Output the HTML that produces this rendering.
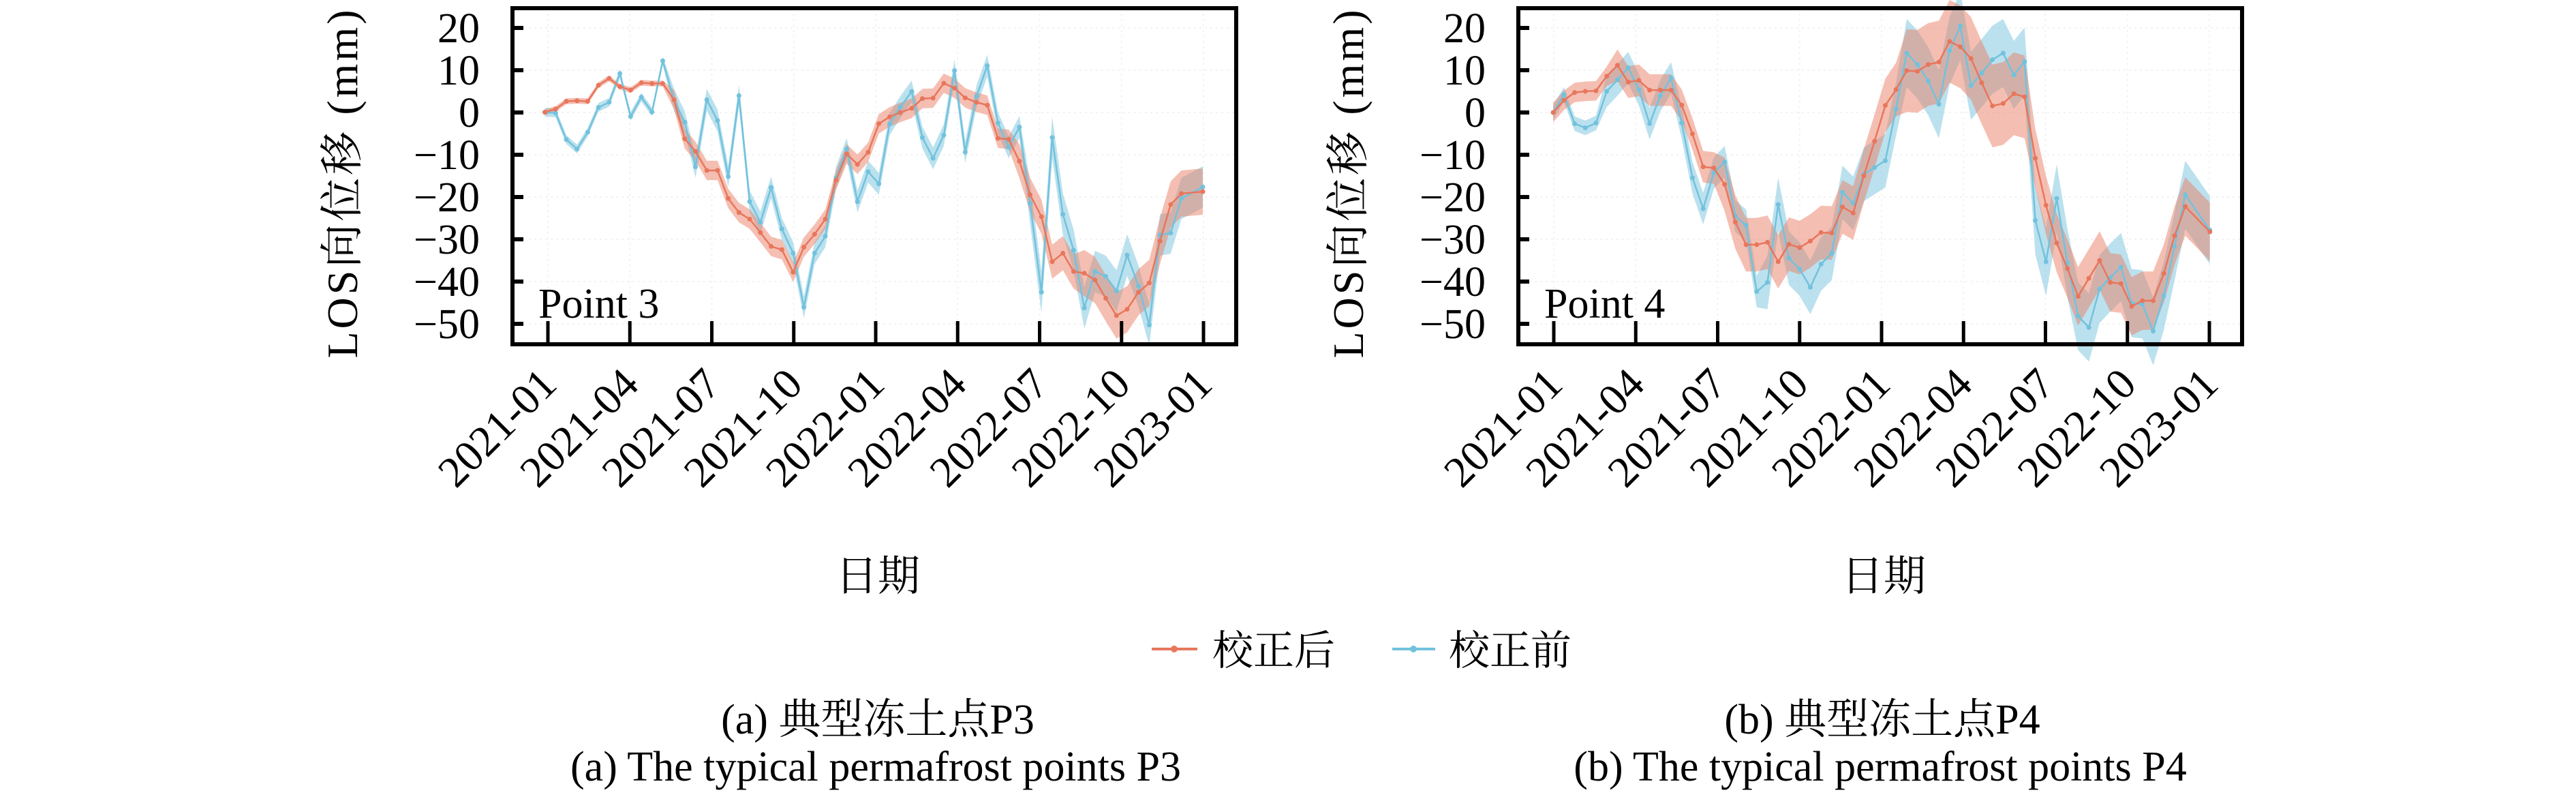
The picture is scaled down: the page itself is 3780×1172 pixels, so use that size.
<!DOCTYPE html>
<html><head><meta charset="utf-8">
<style>
html,body{margin:0;padding:0;background:#fff;}
svg text{font-family:"Liberation Serif","Noto Serif CJK SC",serif;fill:#000;}
</style></head>
<body>
<svg id="s" width="3780" height="1167" viewBox="0 0 3780 1167" xmlns="http://www.w3.org/2000/svg"></svg>
<script>
const S=document.getElementById('s');
const NS='http://www.w3.org/2000/svg';
function el(t,a,txt){const e=document.createElementNS(NS,t);for(const k in a)e.setAttribute(k,a[k]);if(txt!==undefined)e.textContent=txt;S.appendChild(e);return e;}
const OR='#E8765C',BL='#72C2DD';
const ORB='rgba(234,128,102,0.5)',BLB='rgba(120,195,222,0.5)';
function Y(v){return 165-v*6.2;}
const ya=z=>z/2.8;
const pA={
 off:450,frameL:752,frameR:1814,ticks0:804,
 or:[[378,461],[395,448],[412,416],[429,414],[446,416],[463,350],[480,322],[497,356],[514,370],[531,340],[548,343],[565,343],[583,410],[600,570],[617,622],[635,700],[652,700],[669,815],[686,873],[703,900],[720,955],[737,1012],[754,1025],[772,1118],[789,1015],[806,962],[823,900],[840,740],[857,632],[874,675],[891,625],[908,508],[925,480],[942,462],[960,445],[977,405],[994,403],[1011,342],[1028,362],[1045,402],[1063,420],[1080,432],[1097,568],[1114,572],[1131,662],[1148,800],[1166,890],[1183,1075],[1200,1040],[1217,1115],[1234,1122],[1251,1150],[1268,1225],[1285,1296],[1302,1270],[1320,1200],[1337,1162],[1354,990],[1371,840],[1388,795],[1422,787]],
 bl:[[378,461],[395,464],[412,573],[429,612],[446,543],[463,441],[480,420],[497,302],[514,478],[531,399],[548,460],[565,250],[583,410],[600,502],[617,685],[635,410],[652,495],[669,725],[686,393],[703,828],[720,913],[737,770],[754,940],[772,1040],[789,1262],[806,1040],[823,970],[840,730],[857,612],[874,828],[891,705],[908,755],[925,510],[942,440],[960,376],[977,565],[994,650],[1011,555],[1028,290],[1045,625],[1063,395],[1080,270],[1097,505],[1114,605],[1131,522],[1148,835],[1166,1200],[1183,565],[1200,880],[1217,1028],[1234,1265],[1251,1115],[1268,1135],[1285,1195],[1302,1048],[1320,1175],[1337,1335],[1354,965],[1371,957],[1388,815],[1422,768]],
 ow:i=>i<12?12:(i<44?40:(i<50?70:95)),
 bw:i=>i<12?18:(i<45?45:85),
 label:'Point 3'
};
const pB={
 off:1900,frameL:2228,frameR:3290,ticks0:2280,
 or:[[410,462],[427,412],[444,380],[461,375],[478,373],[495,313],[512,268],[529,337],[546,330],[563,370],[580,370],[597,370],[614,432],[631,550],[648,685],[665,690],[682,757],[699,912],[716,1005],[733,1005],[750,995],[767,1075],[784,1003],[801,1017],[818,990],[835,955],[852,957],[869,850],[886,875],[903,722],[920,580],[937,433],[954,368],[971,290],[988,293],[1005,265],[1022,255],[1039,170],[1056,192],[1073,240],[1090,340],[1107,435],[1124,425],[1141,385],[1158,398],[1175,650],[1192,843],[1209,998],[1226,1103],[1243,1217],[1260,1143],[1277,1070],[1294,1160],[1311,1165],[1328,1258],[1345,1235],[1362,1235],[1379,1123],[1396,968],[1413,848],[1452,952]],
 bl:[[410,462],[427,388],[444,508],[461,525],[478,505],[495,375],[512,328],[529,278],[546,368],[563,508],[580,393],[597,320],[614,505],[631,730],[648,857],[665,710],[682,665],[699,888],[716,925],[733,1197],[750,1160],[767,840],[784,1060],[801,1105],[818,1180],[835,1085],[852,1040],[869,790],[886,835],[903,716],[920,688],[937,660],[954,448],[971,218],[988,265],[1005,333],[1022,428],[1039,208],[1056,107],[1073,352],[1090,300],[1107,245],[1124,218],[1141,308],[1158,253],[1175,905],[1192,1075],[1209,815],[1226,1080],[1243,1298],[1260,1345],[1277,1187],[1294,1140],[1311,1097],[1328,1245],[1345,1250],[1362,1360],[1379,1215],[1396,1012],[1413,800],[1452,945]],
 ow:i=>i<6?40:(i<16?65:(i<33?110:(i<45?170:120))),
 bw:i=>i<5?30:(i<20?65:(i<33?110:140)),
 label:'Point 4'
};
const dates=['2021-01','2021-04','2021-07','2021-10','2022-01','2022-04','2022-07','2022-10','2023-01'];
function band(p,pts,wf,fill){
 const X=z=>p.off+z/1.0814;
 let up=pts.map((q,i)=>[X(q[0]),ya(q[1]-wf(i))]);
 let dn=pts.map((q,i)=>[X(q[0]),ya(q[1]+wf(i))]).reverse();
 el('polygon',{points:up.concat(dn).map(a=>a[0].toFixed(1)+','+a[1].toFixed(1)).join(' '),fill:fill,stroke:'none'});
}
function line(p,pts,col){
 const X=z=>p.off+z/1.0814;
 el('polyline',{points:pts.map(q=>X(q[0]).toFixed(1)+','+ya(q[1]).toFixed(1)).join(' '),fill:'none',stroke:col,'stroke-width':2.5});
 pts.forEach(q=>el('circle',{cx:X(q[0]),cy:ya(q[1]),r:3.5,fill:col}));
}
function panel(p){
 const T=12,B=505;
 for(let v=20;v>=-50;v-=10)el('line',{x1:p.frameL,x2:p.frameR,y1:Y(v),y2:Y(v),stroke:'#f2f2f2','stroke-width':2,'stroke-dasharray':'3,5'});
 for(let i=0;i<9;i++){const x=p.ticks0+i*120.25;el('line',{x1:x,x2:x,y1:T,y2:B,stroke:'#f2f2f2','stroke-width':2,'stroke-dasharray':'3,5'});}
 band(p,p.bl,p.bw,BLB);
 band(p,p.or,p.ow,ORB);
 line(p,p.bl,BL);
 line(p,p.or,OR);
 el('rect',{x:p.frameL,y:T,width:p.frameR-p.frameL,height:B-T,fill:'none',stroke:'#000','stroke-width':6});
 for(let v=20;v>=-50;v-=10){
  el('line',{x1:p.frameL,x2:p.frameL+16,y1:Y(v),y2:Y(v),stroke:'#000','stroke-width':6});
  el('text',{x:p.frameL-48,y:Y(v)+21,'text-anchor':'end','font-size':62},v<0?'\u2212'+(-v):String(v));
 }
 for(let i=0;i<9;i++){
  const x=p.ticks0+i*120.25;
  el('line',{x1:x,x2:x,y1:B,y2:B-34,stroke:'#000','stroke-width':5});
  el('text',{x:x+16,y:B+62,'text-anchor':'end','font-size':64,transform:`rotate(-45 ${x+16} ${B+62})`},dates[i]);
 }
 el('text',{x:p.frameL+38,y:466,'font-size':62},p.label);
 const cx=p.frameL-228, cy=268;
 el('text',{x:cx,y:cy,'text-anchor':'middle','font-size':64,'letter-spacing':4,transform:`rotate(-90 ${cx} ${cy})`},'LOS向位移 (mm)');
 const mid=(p.frameL+p.frameR)/2;
 el('text',{x:mid+5,y:866,'text-anchor':'middle','font-size':62},'日期');
}
panel(pA);panel(pB);
el('line',{x1:1690,x2:1757,y1:952,y2:952,stroke:OR,'stroke-width':4});
el('circle',{cx:1723,cy:952,r:5,fill:OR});
el('text',{x:1779,y:975,'font-size':60},'校正后');
el('line',{x1:2043,x2:2106,y1:952,y2:952,stroke:BL,'stroke-width':4});
el('circle',{cx:2074,cy:952,r:5,fill:BL});
el('text',{x:2126,y:975,'font-size':60},'校正前');
el('text',{x:1288,y:1076,'text-anchor':'middle','font-size':62},'(a) 典型冻土点P3');
el('text',{x:1285,y:1145,'text-anchor':'middle','font-size':62},'(a) The typical permafrost points P3');
el('text',{x:2762,y:1076,'text-anchor':'middle','font-size':62},'(b) 典型冻土点P4');
el('text',{x:2759,y:1145,'text-anchor':'middle','font-size':62},'(b) The typical permafrost points P4');
</script>
</body></html>
